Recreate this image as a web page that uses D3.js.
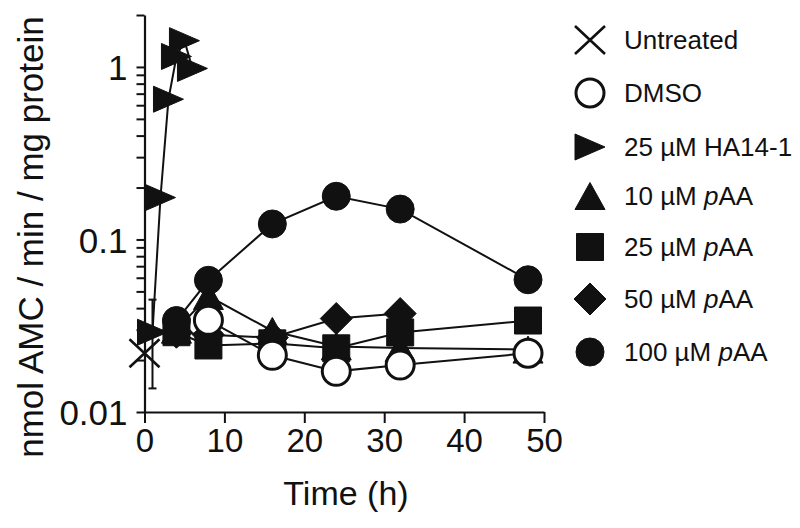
<!DOCTYPE html>
<html><head><meta charset="utf-8">
<script src="https://cdn.jsdelivr.net/npm/d3@7"></script>
<style>body{margin:0;background:#fff} svg{font-family:"Liberation Sans",Arial,Helvetica,sans-serif}</style>
</head><body>
<svg id="c" width="800" height="528"></svg>
<script>
// ---- data ----
const untreatedT = [0];
const untreatedV = [0.0219];
const dmsoT = [8, 16, 24, 32, 48];
const dmsoV = [0.034, 0.0213, 0.0172, 0.0187, 0.0219];
const haT = [1, 2, 3, 4, 5, 6];
const haV = [0.029, 0.175, 0.65, 1.15, 1.42, 0.98];
const haErrLo = [0.0137, null, null, null, null, null];
const haErrHi = [0.0448, null, null, null, null, null];
const p10T = [4, 8, 16, 24, 32, 48];
const p10V = [0.030, 0.047, 0.0295, 0.024, 0.0235, 0.023];
const p25T = [4, 8, 16, 24, 32, 48];
const p25V = [0.029, 0.0243, 0.025, 0.0234, 0.0289, 0.0339];
const p50T = [4, 8, 16, 24, 32];
const p50V = [0.029, 0.028, 0.027, 0.0348, 0.0372];
const p100T = [4, 8, 16, 24, 32, 48];
const p100V = [0.0339, 0.058, 0.123, 0.178, 0.15, 0.0584];
const xTicks = [0, 10, 20, 30, 40, 50];
const yMajor = [0.01, 0.1, 1];
const yMinor = [0.02,0.03,0.04,0.05,0.06,0.07,0.08,0.09,0.2,0.3,0.4,0.5,0.6,0.7,0.8,0.9,2];

const series = [
  {name:"Untreated", label:[["Untreated",false]], t:untreatedT, v:untreatedV, shape:"x"},
  {name:"DMSO", label:[["DMSO",false]], t:dmsoT, v:dmsoV, shape:"ocircle"},
  {name:"HA", label:[["25 µM HA14-1",false]], t:haT, v:haV, shape:"tright", lo:haErrLo, hi:haErrHi},
  {name:"p10", label:[["10 µM ",false],["p",true],["AA",false]], t:p10T, v:p10V, shape:"tup"},
  {name:"p25", label:[["25 µM ",false],["p",true],["AA",false]], t:p25T, v:p25V, shape:"square"},
  {name:"p50", label:[["50 µM ",false],["p",true],["AA",false]], t:p50T, v:p50V, shape:"diamond"},
  {name:"p100", label:[["100 µM ",false],["p",true],["AA",false]], t:p100T, v:p100V, shape:"circle"}
];

const svg = d3.select("#c");
const x = d3.scaleLinear().domain([0, 50]).range([144.5, 544]);
const y = d3.scaleLog().domain([0.01, 2]).range([412, 15]);
const ink = "#111";

// axes
const yAxis = d3.axisLeft(y)
  .tickValues(yMajor.concat(yMinor))
  .tickFormat(d => yMajor.includes(d) ? (d === 1 ? "1" : String(d)) : "")
  .tickSize(8).tickSizeOuter(0).tickPadding(9);
const gy = svg.append("g").attr("transform", "translate(144.5,0)").call(yAxis);
gy.selectAll("text").attr("font-size", 35).attr("fill", ink).attr("dy", "0.36em");
gy.selectAll("line").attr("stroke", ink).attr("stroke-width", 2);
gy.select(".domain").attr("stroke", ink).attr("stroke-width", 2.2);

const xAxis = d3.axisBottom(x).tickValues(xTicks).tickSize(11).tickSizeOuter(0).tickPadding(6);
const gx = svg.append("g").attr("transform", "translate(0,412)").call(xAxis);
gx.selectAll("text").attr("font-size", 33).attr("fill", ink);
gx.selectAll("line").attr("stroke", ink).attr("stroke-width", 2);
gx.select(".domain").attr("stroke", ink).attr("stroke-width", 2.2);

svg.append("text").attr("x", 346).attr("y", 505).attr("text-anchor", "middle")
  .attr("font-size", 34).attr("fill", ink).text("Time (h)");
svg.append("text").attr("transform", "translate(43,237) rotate(-90)")
  .attr("text-anchor", "middle").attr("font-size", 35).attr("fill", ink)
  .text("nmol AMC / min / mg protein");

// shapes
function shapePath(s) {
  switch (s) {
    case "x": return "M-15,-14L15,14M-15,14L15,-14";
    case "tright": return "M-15,-13L-15,13L15,0Z";
    case "tup": return "M-15,13.5L15,13.5L0,-13.5Z";
    case "square": return "M-13.5,-13.5H13.5V13.5H-13.5Z";
    case "diamond": return "M0,-16L16,0L0,16L-16,0Z";
    default: return "M14,0A14,14 0 1,1 -14,0A14,14 0 1,1 14,0Z";
  }
}
function styleShape(sel, s) {
  if (s === "x") sel.attr("fill", "none").attr("stroke", ink).attr("stroke-width", 2.6);
  else if (s === "ocircle") sel.attr("fill", "#fff").attr("stroke", ink).attr("stroke-width", 3);
  else sel.attr("fill", ink).attr("stroke", ink).attr("stroke-width", 1);
}

const line = d3.line().x(d => x(d[0])).y(d => y(d[1]));
const plot = svg.append("g");
// lines
series.forEach(s => {
  if (s.t.length > 1) {
    plot.append("path").datum(s.t.map((t, i) => [t, s.v[i]]))
      .attr("d", line).attr("fill", "none").attr("stroke", ink).attr("stroke-width", 2);
  }
});
// error bars
series.forEach(s => {
  if (!s.lo) return;
  s.t.forEach((t, i) => {
    if (s.lo[i] == null) return;
    const cx = x(t);
    const g = plot.append("g").attr("stroke", ink).attr("stroke-width", 2);
    g.append("line").attr("x1", cx).attr("x2", cx).attr("y1", y(s.lo[i])).attr("y2", y(s.hi[i]));
    g.append("line").attr("x1", cx - 4).attr("x2", cx + 4).attr("y1", y(s.lo[i])).attr("y2", y(s.lo[i]));
    g.append("line").attr("x1", cx - 4).attr("x2", cx + 4).attr("y1", y(s.hi[i])).attr("y2", y(s.hi[i]));
  });
});
// markers (DMSO drawn last, on top)
const order = ["Untreated", "HA", "p10", "p25", "p50", "p100", "DMSO"];
order.forEach(n => {
  const s = series.find(d => d.name === n);
  s.t.forEach((t, i) => {
    const p = plot.append("path").attr("d", shapePath(s.shape))
      .attr("transform", `translate(${x(t)},${y(s.v[i])})`);
    styleShape(p, s.shape);
  });
});

// legend
const legY = [40, 93, 147, 196, 247, 299, 352];
const leg = svg.append("g");
series.forEach((s, i) => {
  const p = leg.append("path").attr("d", shapePath(s.shape)).attr("transform", `translate(590,${legY[i]})`);
  styleShape(p, s.shape);
  const tx = leg.append("text").attr("x", 624).attr("y", legY[i]).attr("dy", "0.36em")
    .attr("font-size", 26).attr("fill", ink);
  s.label.forEach(([txt, it]) => tx.append("tspan").attr("font-style", it ? "italic" : "normal").text(txt));
});
</script>
</body></html>
